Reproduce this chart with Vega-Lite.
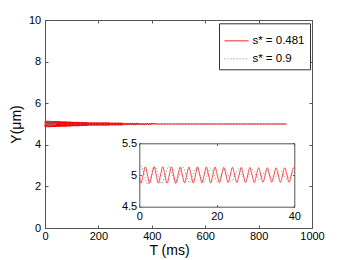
{
  "$schema": "https://vega.github.io/schema/vega-lite/v6.json",
  "width": 267,
  "height": 208,
  "autosize": {"type": "none"},
  "padding": {"left": 45, "top": 20, "right": 34, "bottom": 32},
  "background": "white",
  "config": {
    "view": {"stroke": null},
    "line": {"strokeJoin": "round"},
    "axis": {
      "domainColor": "#555555", "tickColor": "#555555", "domainWidth": 1, "tickWidth": 1,
      "tickSize": -3, "labelFont": "Liberation Sans", "labelFontSize": 11, "labelColor": "#000000",
      "titleFont": "Liberation Sans", "titleFontSize": 14, "titleFontWeight": "normal", "titleColor": "#000000",
      "grid": false, "labelFlush": false
    }
  },
  "datasets": {
    "curves": [
      {"s":"0.481","t":0,"y":4.952},
      {"s":"0.481","t":0.43,"y":4.87},{"s":"0.481","t":0.99,"y":5},{"s":"0.481","t":1.55,"y":5.13},{"s":"0.481","t":2.11,"y":5},{"s":"0.481","t":2.68,"y":4.87},{"s":"0.481","t":3.24,"y":5},{"s":"0.481","t":3.8,"y":5.13},{"s":"0.481","t":4.36,"y":5},{"s":"0.481","t":4.93,"y":4.87},{"s":"0.481","t":5.49,"y":5},{"s":"0.481","t":6.05,"y":5.13},{"s":"0.481","t":6.61,"y":5},{"s":"0.481","t":7.18,"y":4.87},{"s":"0.481","t":7.74,"y":5},{"s":"0.481","t":8.3,"y":5.13},{"s":"0.481","t":8.86,"y":5},{"s":"0.481","t":9.43,"y":4.87},{"s":"0.481","t":9.99,"y":5},
      {"s":"0.481","t":10.55,"y":5.125},{"s":"0.481","t":11.11,"y":5},{"s":"0.481","t":11.68,"y":4.875},{"s":"0.481","t":12.24,"y":5},{"s":"0.481","t":12.8,"y":5.125},{"s":"0.481","t":13.36,"y":5},{"s":"0.481","t":13.93,"y":4.875},{"s":"0.481","t":14.49,"y":5},{"s":"0.481","t":15.05,"y":5.125},{"s":"0.481","t":15.61,"y":5},{"s":"0.481","t":16.18,"y":4.875},{"s":"0.481","t":16.74,"y":5},{"s":"0.481","t":17.3,"y":5.125},{"s":"0.481","t":17.86,"y":5},{"s":"0.481","t":18.43,"y":4.875},{"s":"0.481","t":18.99,"y":5},{"s":"0.481","t":19.55,"y":5.125},{"s":"0.481","t":20.11,"y":5},
      {"s":"0.481","t":20.68,"y":4.88},{"s":"0.481","t":21.24,"y":5},{"s":"0.481","t":21.8,"y":5.12},{"s":"0.481","t":22.36,"y":5},{"s":"0.481","t":22.93,"y":4.88},{"s":"0.481","t":23.49,"y":5},{"s":"0.481","t":24.05,"y":5.12},{"s":"0.481","t":24.61,"y":5},{"s":"0.481","t":25.18,"y":4.88},{"s":"0.481","t":25.74,"y":5},{"s":"0.481","t":26.3,"y":5.12},{"s":"0.481","t":26.86,"y":5},{"s":"0.481","t":27.43,"y":4.88},{"s":"0.481","t":27.99,"y":5},{"s":"0.481","t":28.55,"y":5.12},{"s":"0.481","t":29.11,"y":5},{"s":"0.481","t":29.68,"y":4.88},{"s":"0.481","t":30.24,"y":5},
      {"s":"0.481","t":30.8,"y":5.115},{"s":"0.481","t":31.36,"y":5},{"s":"0.481","t":31.93,"y":4.885},{"s":"0.481","t":32.49,"y":5},{"s":"0.481","t":33.05,"y":5.115},{"s":"0.481","t":33.61,"y":5},{"s":"0.481","t":34.18,"y":4.885},{"s":"0.481","t":34.74,"y":5},{"s":"0.481","t":35.3,"y":5.115},{"s":"0.481","t":35.86,"y":5},{"s":"0.481","t":36.43,"y":4.885},{"s":"0.481","t":36.99,"y":5},{"s":"0.481","t":37.55,"y":5.115},{"s":"0.481","t":38.11,"y":5},{"s":"0.481","t":38.68,"y":4.885},{"s":"0.481","t":39.24,"y":5},{"s":"0.481","t":39.8,"y":5.115},{"s":"0.481","t":40,"y":5.1},
      {"s":"0.481","t":41,"y":4.89},{"s":"0.481","t":42.75,"y":5.11},{"s":"0.481","t":44.5,"y":4.89},{"s":"0.481","t":46.25,"y":5.11},{"s":"0.481","t":48,"y":4.89},{"s":"0.481","t":49.75,"y":5.11},{"s":"0.481","t":51.5,"y":4.89},{"s":"0.481","t":53.25,"y":5.11},{"s":"0.481","t":55,"y":4.89},{"s":"0.481","t":56.75,"y":5.11},{"s":"0.481","t":58.5,"y":4.89},
      {"s":"0.481","t":60.25,"y":5.1},{"s":"0.481","t":62,"y":4.9},{"s":"0.481","t":63.75,"y":5.1},{"s":"0.481","t":65.5,"y":4.9},{"s":"0.481","t":67.25,"y":5.1},{"s":"0.481","t":69,"y":4.9},{"s":"0.481","t":70.75,"y":5.1},{"s":"0.481","t":72.5,"y":4.9},{"s":"0.481","t":74.25,"y":5.1},{"s":"0.481","t":76,"y":4.9},{"s":"0.481","t":77.75,"y":5.1},{"s":"0.481","t":79.5,"y":4.9},
      {"s":"0.481","t":81.25,"y":5.09},{"s":"0.481","t":83,"y":4.91},{"s":"0.481","t":84.75,"y":5.09},{"s":"0.481","t":86.5,"y":4.91},{"s":"0.481","t":88.25,"y":5.09},{"s":"0.481","t":90,"y":4.91},{"s":"0.481","t":91.75,"y":5.09},{"s":"0.481","t":93.5,"y":4.91},{"s":"0.481","t":95.25,"y":5.09},{"s":"0.481","t":97,"y":4.91},{"s":"0.481","t":98.75,"y":5.09},
      {"s":"0.481","t":100.5,"y":4.92},{"s":"0.481","t":102.25,"y":5.08},{"s":"0.481","t":104,"y":4.92},{"s":"0.481","t":105.75,"y":5.08},{"s":"0.481","t":107.5,"y":4.92},{"s":"0.481","t":109.25,"y":5.08},{"s":"0.481","t":111,"y":4.92},{"s":"0.481","t":112.75,"y":5.08},{"s":"0.481","t":114.5,"y":4.92},{"s":"0.481","t":116.25,"y":5.08},{"s":"0.481","t":118,"y":4.92},{"s":"0.481","t":119.75,"y":5.08},{"s":"0.481","t":121.5,"y":4.92},{"s":"0.481","t":123.25,"y":5.08},{"s":"0.481","t":125,"y":4.92},{"s":"0.481","t":126.75,"y":5.08},{"s":"0.481","t":128.5,"y":4.92},
      {"s":"0.481","t":130.25,"y":5.07},{"s":"0.481","t":132,"y":4.93},{"s":"0.481","t":133.75,"y":5.07},{"s":"0.481","t":135.5,"y":4.93},{"s":"0.481","t":137.25,"y":5.07},{"s":"0.481","t":139,"y":4.93},{"s":"0.481","t":140.75,"y":5.07},{"s":"0.481","t":142.5,"y":4.93},{"s":"0.481","t":144.25,"y":5.07},{"s":"0.481","t":146,"y":4.93},{"s":"0.481","t":147.75,"y":5.07},{"s":"0.481","t":149.5,"y":4.93},{"s":"0.481","t":151.25,"y":5.07},{"s":"0.481","t":153,"y":4.93},{"s":"0.481","t":154.75,"y":5.07},{"s":"0.481","t":156.5,"y":4.93},{"s":"0.481","t":158.25,"y":5.07},
      {"s":"0.481","t":160,"y":4.94},{"s":"0.481","t":161.75,"y":5.06},{"s":"0.481","t":163.5,"y":4.94},{"s":"0.481","t":165.25,"y":5.06},{"s":"0.481","t":167,"y":4.94},{"s":"0.481","t":168.75,"y":5.06},{"s":"0.481","t":170.5,"y":4.94},{"s":"0.481","t":172.25,"y":5.06},{"s":"0.481","t":174,"y":4.94},{"s":"0.481","t":175.75,"y":5.06},{"s":"0.481","t":177.5,"y":4.94},{"s":"0.481","t":179.25,"y":5.06},{"s":"0.481","t":181,"y":4.94},{"s":"0.481","t":182.75,"y":5.06},{"s":"0.481","t":184.5,"y":4.94},{"s":"0.481","t":186.25,"y":5.06},{"s":"0.481","t":188,"y":4.94},{"s":"0.481","t":189.75,"y":5.06},{"s":"0.481","t":191.5,"y":4.94},{"s":"0.481","t":193.25,"y":5.06},{"s":"0.481","t":195,"y":4.94},{"s":"0.481","t":196.75,"y":5.06},{"s":"0.481","t":198.5,"y":4.94},
      {"s":"0.481","t":200.25,"y":5.05},{"s":"0.481","t":202,"y":4.95},{"s":"0.481","t":203.75,"y":5.05},{"s":"0.481","t":205.5,"y":4.95},{"s":"0.481","t":207.25,"y":5.05},{"s":"0.481","t":209,"y":4.95},{"s":"0.481","t":210.75,"y":5.05},{"s":"0.481","t":212.5,"y":4.95},{"s":"0.481","t":214.25,"y":5.05},{"s":"0.481","t":216,"y":4.95},{"s":"0.481","t":217.75,"y":5.05},{"s":"0.481","t":219.5,"y":4.95},{"s":"0.481","t":221.25,"y":5.05},{"s":"0.481","t":223,"y":4.95},{"s":"0.481","t":224.75,"y":5.05},{"s":"0.481","t":226.5,"y":4.95},{"s":"0.481","t":228.25,"y":5.05},{"s":"0.481","t":230,"y":4.95},{"s":"0.481","t":231.75,"y":5.05},{"s":"0.481","t":233.5,"y":4.95},{"s":"0.481","t":235.25,"y":5.05},{"s":"0.481","t":237,"y":4.95},{"s":"0.481","t":238.75,"y":5.05},
      {"s":"0.481","t":240.5,"y":4.96},{"s":"0.481","t":242.25,"y":5.04},{"s":"0.481","t":244,"y":4.96},{"s":"0.481","t":245.75,"y":5.04},{"s":"0.481","t":247.5,"y":4.96},{"s":"0.481","t":249.25,"y":5.04},{"s":"0.481","t":251,"y":4.96},{"s":"0.481","t":252.75,"y":5.04},{"s":"0.481","t":254.5,"y":4.96},{"s":"0.481","t":256.25,"y":5.04},{"s":"0.481","t":258,"y":4.96},{"s":"0.481","t":259.75,"y":5.04},{"s":"0.481","t":261.5,"y":4.96},{"s":"0.481","t":263.25,"y":5.04},{"s":"0.481","t":265,"y":4.96},{"s":"0.481","t":266.75,"y":5.04},{"s":"0.481","t":268.5,"y":4.96},{"s":"0.481","t":270.25,"y":5.04},{"s":"0.481","t":272,"y":4.96},{"s":"0.481","t":273.75,"y":5.04},{"s":"0.481","t":275.5,"y":4.96},{"s":"0.481","t":277.25,"y":5.04},{"s":"0.481","t":279,"y":4.96},{"s":"0.481","t":280.75,"y":5.04},{"s":"0.481","t":282.5,"y":4.96},{"s":"0.481","t":284.25,"y":5.04},{"s":"0.481","t":286,"y":4.96},{"s":"0.481","t":287.75,"y":5.04},{"s":"0.481","t":289.5,"y":4.96},
      {"s":"0.481","t":293,"y":5.03},{"s":"0.481","t":296.5,"y":4.97},{"s":"0.481","t":300,"y":5.03},{"s":"0.481","t":303.5,"y":4.97},{"s":"0.481","t":307,"y":5.03},{"s":"0.481","t":310.5,"y":4.97},{"s":"0.481","t":314,"y":5.03},{"s":"0.481","t":317.5,"y":4.97},{"s":"0.481","t":321,"y":5.03},{"s":"0.481","t":324.5,"y":4.97},{"s":"0.481","t":328,"y":5.03},{"s":"0.481","t":331.5,"y":4.97},{"s":"0.481","t":335,"y":5.03},{"s":"0.481","t":338.5,"y":4.97},{"s":"0.481","t":342,"y":5.03},{"s":"0.481","t":345.5,"y":4.97},{"s":"0.481","t":349,"y":5.03},
      {"s":"0.481","t":352.5,"y":4.98},{"s":"0.481","t":356,"y":5.02},{"s":"0.481","t":359.5,"y":4.98},{"s":"0.481","t":363,"y":5.02},{"s":"0.481","t":366.5,"y":4.98},{"s":"0.481","t":370,"y":5.02},{"s":"0.481","t":373.5,"y":4.98},{"s":"0.481","t":377,"y":5.02},{"s":"0.481","t":380.5,"y":4.98},{"s":"0.481","t":384,"y":5.02},{"s":"0.481","t":387.5,"y":4.98},{"s":"0.481","t":391,"y":5.02},{"s":"0.481","t":394.5,"y":4.98},{"s":"0.481","t":398,"y":5.02},
      {"s":"0.481","t":420,"y":5},{"s":"0.481","t":600,"y":5},{"s":"0.481","t":800,"y":5},{"s":"0.481","t":905,"y":5},
      {"s":"0.9","t":0,"y":5.115},{"s":"0.9","t":0.4,"y":5.15},{"s":"0.9","t":1.3,"y":5},{"s":"0.9","t":2.2,"y":4.855},{"s":"0.9","t":3.1,"y":5},{"s":"0.9","t":4,"y":5.142},{"s":"0.9","t":4.9,"y":5},{"s":"0.9","t":5.8,"y":4.862},{"s":"0.9","t":6.7,"y":5},{"s":"0.9","t":7.6,"y":5.134},{"s":"0.9","t":8.5,"y":5},{"s":"0.9","t":9.4,"y":4.87},{"s":"0.9","t":10.3,"y":5},{"s":"0.9","t":11.2,"y":5.126},{"s":"0.9","t":12.1,"y":5},{"s":"0.9","t":13,"y":4.878},{"s":"0.9","t":13.9,"y":5},{"s":"0.9","t":14.8,"y":5.118},{"s":"0.9","t":15.7,"y":5},{"s":"0.9","t":16.6,"y":4.886},{"s":"0.9","t":17.5,"y":5},{"s":"0.9","t":18.4,"y":5.11},{"s":"0.9","t":19.3,"y":5},{"s":"0.9","t":20.2,"y":4.894},{"s":"0.9","t":21.1,"y":5},{"s":"0.9","t":22,"y":5.102},{"s":"0.9","t":22.9,"y":5},{"s":"0.9","t":23.8,"y":4.902},{"s":"0.9","t":24.7,"y":5},{"s":"0.9","t":25.6,"y":5.094},{"s":"0.9","t":26.5,"y":5},{"s":"0.9","t":27.4,"y":4.91},{"s":"0.9","t":28.3,"y":5},{"s":"0.9","t":29.2,"y":5.086},{"s":"0.9","t":30.1,"y":5},{"s":"0.9","t":31,"y":4.918},{"s":"0.9","t":31.9,"y":5},{"s":"0.9","t":32.8,"y":5.078},{"s":"0.9","t":33.7,"y":5},{"s":"0.9","t":34.6,"y":4.926},{"s":"0.9","t":35.5,"y":5},{"s":"0.9","t":36.4,"y":5.07},{"s":"0.9","t":37.3,"y":5},{"s":"0.9","t":38.2,"y":4.934},{"s":"0.9","t":39.1,"y":5},{"s":"0.9","t":40,"y":5.062},
      {"s":"0.9","t":60,"y":5},{"s":"0.9","t":200,"y":5},{"s":"0.9","t":400,"y":5},{"s":"0.9","t":600,"y":5},{"s":"0.9","t":800,"y":5},{"s":"0.9","t":905,"y":5}
    ]
  },
  "data": {"name": "curves"},
  "layer": [
    {
      "layer": [
        {
          "transform": [{"filter": "datum.s == '0.481'"}],
          "mark": {"type": "line", "interpolate": "linear", "strokeWidth": 1.2, "strokeJoin": "round"},
          "encoding": {
            "x": {"field": "t", "type": "quantitative", "scale": {"domain": [0, 1000], "nice": false, "zero": false},
                  "axis": {"orient": "bottom", "values": [0, 200, 400, 600, 800, 1000], "format": "d", "title": "T (ms)", "labelPadding": 5, "titlePadding": 2, "titleX": 124}},
            "y": {"field": "y", "type": "quantitative", "scale": {"domain": [0, 10], "nice": false, "zero": false},
                  "axis": {"orient": "left", "values": [0, 2, 4, 6, 8, 10], "format": "d", "title": "Y(μm)", "labelPadding": 7.3, "titlePadding": 5}},
            "color": {"field": "s", "type": "nominal", "scale": {"domain": ["0.481", "0.9"], "range": ["#ff0000", "#808080"]},
                      "legend": {"title": null, "orient": "none", "legendX": 174, "legendY": 3.3, "padding": 5, "strokeColor": "#333333", "fillColor": "#ffffff", "labelFont": "Liberation Sans", "labelFontSize": 11.5, "labelColor": "#000000", "labelOffset": 3.4, "symbolType": "stroke", "symbolSize": 576, "symbolStrokeWidth": 1, "rowPadding": -4, "labelExpr": "'s* = ' + datum.label"}},
            "strokeDash": {"field": "s", "type": "nominal", "scale": {"domain": ["0.481", "0.9"], "range": [[1, 0], [1, 2]]},
                      "legend": {"title": null, "orient": "none", "legendX": 174, "legendY": 3.3, "padding": 5, "strokeColor": "#333333", "fillColor": "#ffffff", "labelFont": "Liberation Sans", "labelFontSize": 11.5, "labelColor": "#000000", "labelOffset": 3.4, "symbolType": "stroke", "symbolSize": 576, "symbolStrokeWidth": 1, "rowPadding": -4, "labelExpr": "'s* = ' + datum.label"}}
          }
        },
        {
          "transform": [{"filter": "datum.s == '0.9'"}],
          "mark": {"type": "line", "interpolate": "monotone", "strokeWidth": 1},
          "encoding": {
            "x": {"field": "t", "type": "quantitative"},
            "y": {"field": "y", "type": "quantitative"},
            "color": {"field": "s", "type": "nominal"},
            "strokeDash": {"field": "s", "type": "nominal"}
          }
        }
      ]
    },
    {
      "mark": {"type": "line", "opacity": 0},
      "encoding": {
        "x": {"field": "t", "type": "quantitative", "scale": {"domain": [0, 1000], "nice": false, "zero": false},
              "axis": {"orient": "top", "values": [0, 200, 400, 600, 800, 1000], "labels": false, "title": null}},
        "y": {"field": "y", "type": "quantitative", "scale": {"domain": [0, 10], "nice": false, "zero": false},
              "axis": {"orient": "right", "values": [0, 2, 4, 6, 8, 10], "labels": false, "title": null}}
      }
    },
    {
      "transform": [{"filter": "datum.t <= 40"}],
      "layer": [
        {
          "transform": [{"filter": "datum.s == '0.481'"}],
          "mark": {"type": "line", "interpolate": "monotone", "strokeWidth": 0.9, "color": "#ff2a2a"},
          "encoding": {
            "x": {"field": "t", "type": "quantitative", "scale": {"domain": [0, 40], "range": [94.3, 249.3], "nice": false, "zero": false},
                  "axis": {"orient": "bottom", "offset": -21.3, "values": [0, 20, 40], "format": "~g", "title": null, "tickSize": -2, "labelPadding": 6}},
            "y": {"field": "y", "type": "quantitative", "scale": {"domain": [4.5, 5.5], "range": [186.7, 123.3], "nice": false, "zero": false},
                  "axis": {"orient": "left", "offset": -94.3, "values": [4.5, 5, 5.5], "format": "~g", "title": null, "tickSize": -2, "labelPadding": 4.6}}
          }
        },
        {
          "transform": [{"filter": "datum.s == '0.9'"}],
          "mark": {"type": "line", "interpolate": "monotone", "strokeWidth": 1, "color": "#808080", "strokeDash": [1, 2]},
          "encoding": {
            "x": {"field": "t", "type": "quantitative"},
            "y": {"field": "y", "type": "quantitative"}
          }
        }
      ]
    },
    {
      "transform": [{"filter": "datum.t <= 40"}],
      "mark": {"type": "line", "opacity": 0},
      "encoding": {
        "x": {"field": "t", "type": "quantitative", "scale": {"domain": [0, 40], "range": [94.3, 249.3], "nice": false, "zero": false},
              "axis": {"orient": "top", "offset": -123.3, "values": [0, 20, 40], "labels": false, "title": null, "tickSize": -2}},
        "y": {"field": "y", "type": "quantitative", "scale": {"domain": [4.5, 5.5], "range": [186.7, 123.3], "nice": false, "zero": false},
              "axis": {"orient": "right", "offset": -17.7, "values": [4.5, 5, 5.5], "labels": false, "title": null, "tickSize": -2}}
      }
    }
  ],
  "resolve": {"scale": {"x": "independent", "y": "independent"}}
}
